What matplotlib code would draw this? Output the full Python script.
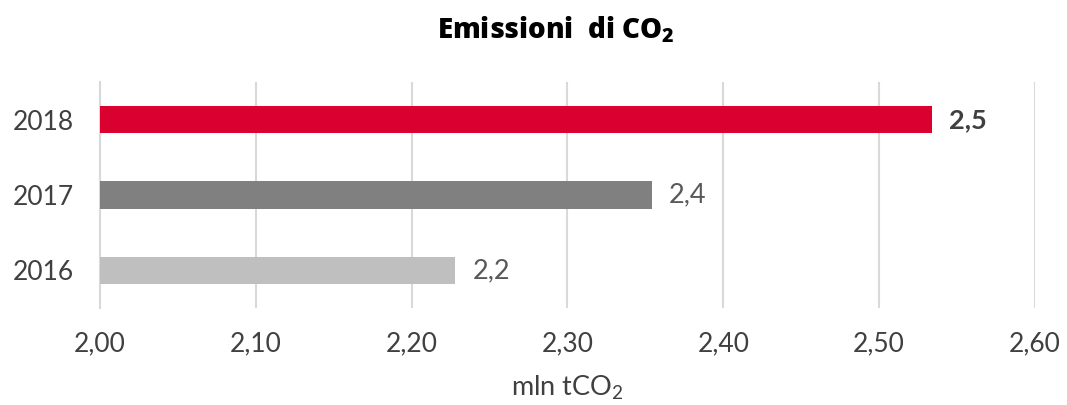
import matplotlib
matplotlib.use("Agg")
import matplotlib.pyplot as plt

# Emissions data (mln tCO2)
years = ['2016', '2017', '2018']
values = [2.228, 2.354, 2.534]
value_labels = ['2,2', '2,4', '2,5']
bar_colors = ['#BFBFBF', '#808080', '#DA0030']
x_ticks = [2.00, 2.10, 2.20, 2.30, 2.40, 2.50, 2.60]

plt.rcParams['font.family'] = ['Lato', 'DejaVu Sans']
plt.rcParams['mathtext.fontset'] = 'custom'
plt.rcParams['mathtext.rm'] = 'Lato'
plt.rcParams['mathtext.bf'] = 'Open Sans:weight=800'

fig = plt.figure(figsize=(10.67, 4.05), dpi=100)
ax = fig.add_axes([0.0937, 0.2395, 0.8763, 0.558])

ax.barh(years, [v - 2.0 for v in values], left=2.0, height=0.36,
        color=bar_colors, zorder=3)

# value labels at the end of the bars
for i, (v, lab) in enumerate(zip(values, value_labels)):
    bold = (i == len(values) - 1)
    ax.text(v + 0.011, i, lab, va='center', ha='left', fontsize=19.5,
            color='#404040' if bold else '#595959',
            fontweight='bold' if bold else 'normal')

ax.set_xlim(2.0, 2.6)
ax.set_ylim(-0.5, 2.5)
ax.set_xticks(x_ticks)
ax.set_xticklabels([f'{t:.2f}'.replace('.', ',') for t in x_ticks])
ax.grid(axis='x', color='#D9D9D9', linewidth=1.5, zorder=0)
for s in ['top', 'right', 'bottom']:
    ax.spines[s].set_visible(False)
ax.spines['left'].set_color('#D9D9D9')
ax.spines['left'].set_linewidth(1.5)
ax.tick_params(length=0, labelsize=19, labelcolor='#404040')
ax.tick_params(axis='x', pad=17)
ax.tick_params(axis='y', pad=19)

ax.set_xlabel('mln tCO$_2$', fontsize=19.5, color='#404040', labelpad=12)
fig.text(0.521, 0.926, 'Emissioni  di CO$_\\mathbf{2}$', ha='center',
         va='center', fontsize=20, fontweight=800, color='black',
         family=['Open Sans', 'DejaVu Sans'])

fig.savefig('out.png', dpi=100)
